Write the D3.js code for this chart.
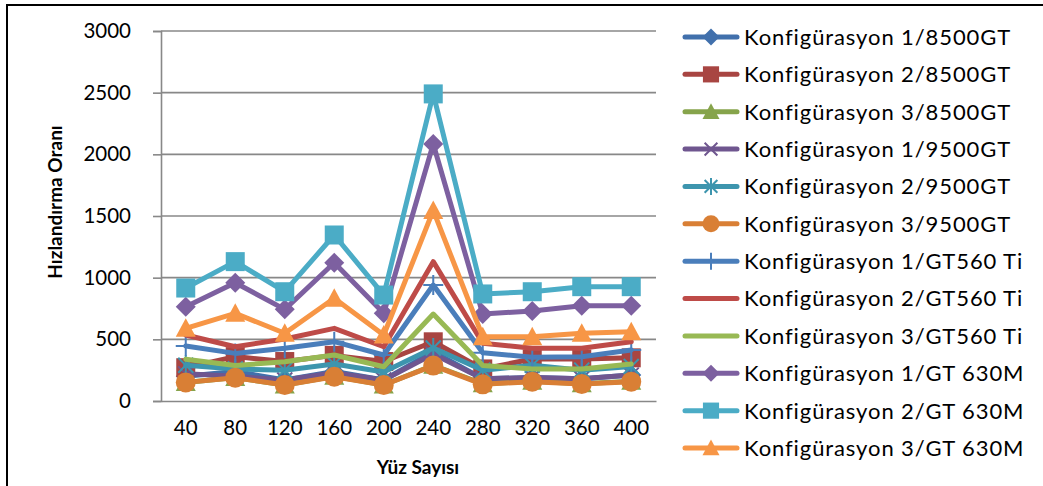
<!DOCTYPE html>
<html>
<head>
<meta charset="utf-8">
<script src="https://cdn.jsdelivr.net/npm/d3@7/dist/d3.min.js"></script>
<style>
  html, body { margin: 0; padding: 0; background: #fff; }
  svg { display: block; }
  text { font-family: Lato, "Open Sans", sans-serif; fill: #000; }
</style>
</head>
<body>
<svg id="chart" width="1043" height="486"></svg>
<script>
// Face counts on the category axis
const categories = [40, 80, 120, 160, 200, 240, 280, 320, 360, 400];
const yTickValues = [0, 500, 1000, 1500, 2000, 2500, 3000];

// Speed-up ratios per configuration / GPU
const conf1_8500 = [200, 240, 170, 240, 170, 400, 180, 190, 180, 210];
const conf2_8500 = [270, 360, 320, 370, 320, 480, 260, 340, 340, 350];
const conf3_8500 = [150, 190, 130, 200, 130, 290, 140, 160, 140, 160];
const conf1_9500 = [220, 200, 170, 230, 170, 380, 180, 190, 180, 210];
const conf2_9500 = [290, 260, 250, 300, 235, 430, 250, 290, 250, 280];
const conf3_9500 = [151, 189, 130, 197, 130, 287, 135, 157, 138, 157];
const conf1_560 = [446, 386, 427, 481, 373, 940, 392, 354, 359, 414];
const conf2_560 = [535, 440, 503, 589, 440, 1130, 468, 427, 427, 481];
const conf3_560 = [338, 287, 319, 373, 278, 705, 287, 259, 259, 300];
const conf1_630 = [765, 959, 743, 1121, 711, 2084, 705, 730, 773, 773];
const conf2_630 = [916, 1130, 886, 1346, 859, 2490, 868, 886, 927, 927];
const conf3_630 = [589, 711, 549, 833, 535, 1545, 521, 521, 549, 562];

const seriesNames = [
  "Konfigürasyon 1/8500GT", "Konfigürasyon 2/8500GT", "Konfigürasyon 3/8500GT",
  "Konfigürasyon 1/9500GT", "Konfigürasyon 2/9500GT", "Konfigürasyon 3/9500GT",
  "Konfigürasyon 1/GT560 Ti", "Konfigürasyon 2/GT560 Ti", "Konfigürasyon 3/GT560 Ti",
  "Konfigürasyon 1/GT 630M", "Konfigürasyon 2/GT 630M", "Konfigürasyon 3/GT 630M"
];
const seriesValues = [
  conf1_8500, conf2_8500, conf3_8500, conf1_9500, conf2_9500, conf3_9500,
  conf1_560, conf2_560, conf3_560, conf1_630, conf2_630, conf3_630
];
const seriesColors = [
  "#4170ac", "#a84542", "#86a44b", "#6f568f", "#3d95ae", "#d97f35",
  "#4a7ebb", "#be4b48", "#98b954", "#7d60a0", "#4bacc6", "#f79646"
];
const seriesMarkers = [
  "diamond", "square", "triangle", "x", "star", "circle",
  "plus", "none", "none", "diamond", "square", "triangle"
];

const svg = d3.select("#chart");

// outer chart frame
svg.append("rect")
  .attr("x", 7).attr("y", 5).attr("width", 1200).attr("height", 700)
  .attr("fill", "none").attr("stroke", "#000").attr("stroke-width", 2);

const plot = { left: 161, right: 656, top: 31, bottom: 401 };

const x = d3.scaleBand().domain(categories).range([plot.left, plot.right]);
const y = d3.scaleLinear().domain([0, 3000]).range([plot.bottom, plot.top]);

// gridlines
svg.append("g")
  .selectAll("line")
  .data(yTickValues.filter(d => d > 0))
  .join("line")
  .attr("x1", plot.left).attr("x2", plot.right)
  .attr("y1", d => y(d)).attr("y2", d => y(d))
  .attr("stroke", "#888").attr("stroke-width", 1.6);

// y axis
const yAxis = svg.append("g")
  .attr("transform", `translate(${plot.left},0)`)
  .call(d3.axisLeft(y).tickValues(yTickValues).tickSize(8).tickPadding(22).tickFormat(d3.format("d")));
yAxis.select(".domain").attr("stroke", "#888").attr("stroke-width", 1.6);
yAxis.selectAll(".tick line").attr("stroke", "#888").attr("stroke-width", 1.6);
yAxis.selectAll(".tick text").style("font-size", "20.5px").style("font-family", "Lato, sans-serif").attr("fill", "#000");

// x axis
const xAxis = svg.append("g")
  .attr("transform", `translate(0,${plot.bottom})`)
  .call(d3.axisBottom(x).tickSize(0).tickPadding(19));
xAxis.select(".domain").attr("stroke", "#888").attr("stroke-width", 1.6);
xAxis.selectAll(".tick text").style("font-size", "20.5px").style("font-family", "Lato, sans-serif").attr("fill", "#000");

// axis titles
svg.append("text")
  .attr("x", 418).attr("y", 474)
  .attr("text-anchor", "middle")
  .style("font-size", "19px").style("font-weight", "bold")
  .text("Yüz Sayısı");

svg.append("text")
  .attr("transform", "translate(62,202) rotate(-90)")
  .attr("text-anchor", "middle")
  .style("font-size", "19px").style("font-weight", "bold")
  .text("Hızlandırma Oranı");

// marker drawing helper
function drawMarker(g, type, color, s) {
  const h = s / 2;
  if (type === "diamond") {
    g.append("path").attr("d", `M0,${-h}L${h},0L0,${h}L${-h},0Z`).attr("fill", color);
  } else if (type === "square") {
    g.append("rect").attr("x", -h * 0.95).attr("y", -h * 0.95).attr("width", s * 0.95).attr("height", s * 0.95).attr("fill", color);
  } else if (type === "triangle") {
    g.append("path").attr("d", `M0,${-h}L${h},${h * 0.85}L${-h},${h * 0.85}Z`).attr("fill", color);
  } else if (type === "circle") {
    g.append("circle").attr("r", h).attr("fill", color);
  } else if (type === "x") {
    const k = h * 0.75;
    g.append("path").attr("d", `M${-k},${-k}L${k},${k}M${-k},${k}L${k},${-k}`)
      .attr("stroke", color).attr("stroke-width", 2).attr("fill", "none");
  } else if (type === "star") {
    const k = h * 0.75;
    g.append("path").attr("d", `M${-k},${-k}L${k},${k}M${-k},${k}L${k},${-k}M0,${-h}L0,${h}`)
      .attr("stroke", color).attr("stroke-width", 2).attr("fill", "none");
  } else if (type === "plus") {
    g.append("path").attr("d", `M0,${-h}L0,${h}M${-h},0L${h},0`)
      .attr("stroke", color).attr("stroke-width", 2).attr("fill", "none");
  }
}

const line = d3.line()
  .x((d, i) => x(categories[i]) + x.bandwidth() / 2)
  .y(d => y(d));

// series lines with markers
seriesValues.forEach((vals, si) => {
  const g = svg.append("g").attr("class", "series");
  g.append("path")
    .attr("d", line(vals))
    .attr("fill", "none")
    .attr("stroke", seriesColors[si])
    .attr("stroke-width", 5)
    .attr("stroke-linejoin", "round")
    .attr("stroke-linecap", "round");
  vals.forEach((v, i) => {
    const m = g.append("g")
      .attr("transform", `translate(${x(categories[i]) + x.bandwidth() / 2},${y(v)})`);
    drawMarker(m, seriesMarkers[si], seriesColors[si], 20);
  });
});

// legend
const legend = svg.append("g");
const legendY = d3.scalePoint().domain(seriesNames).range([37, 448]);
seriesNames.forEach((name, si) => {
  const cy = legendY(name);
  const row = legend.append("g");
  row.append("line")
    .attr("x1", 685).attr("x2", 737).attr("y1", cy).attr("y2", cy)
    .attr("stroke", seriesColors[si]).attr("stroke-width", 5).attr("stroke-linecap", "round");
  const m = row.append("g").attr("transform", `translate(711,${cy})`);
  drawMarker(m, seriesMarkers[si], seriesColors[si], 17);
  row.append("text")
    .attr("x", 744).attr("y", cy).attr("dy", "0.36em")
    .style("font-size", "22px")
    .style("letter-spacing", "0.9px")
    .text(name);
});
</script>
</body>
</html>
